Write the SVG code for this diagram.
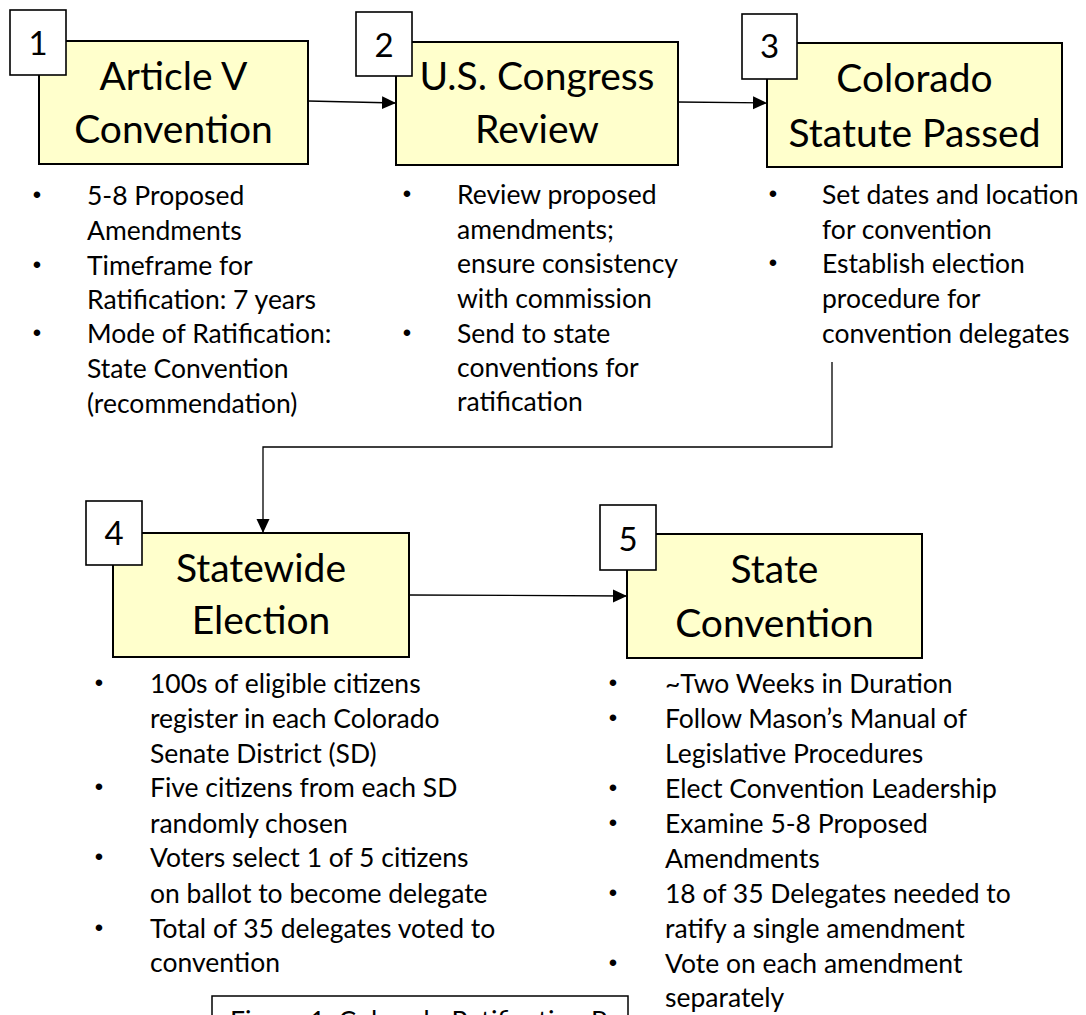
<svg xmlns="http://www.w3.org/2000/svg" width="1086" height="1015" viewBox="0 0 1086 1015">
<style>
.box{fill:#FFFFCC;stroke:#000;stroke-width:2}
.num{fill:#fff;stroke:#000;stroke-width:1.6}
.title{font-family:Lato,"Liberation Sans",sans-serif;font-size:39px;fill:#000;text-anchor:middle}
.numt{font-family:Lato,"Liberation Sans",sans-serif;font-size:33px;fill:#000;text-anchor:middle}
.body{font-family:Lato,"Liberation Sans",sans-serif;font-size:26.5px;fill:#000}
.bul{font-family:"Liberation Sans",sans-serif;font-size:24px;fill:#000;text-anchor:middle}
.conn{fill:none;stroke:#000;stroke-width:1.3}
</style>
<defs>
<marker id="arr" markerUnits="userSpaceOnUse" markerWidth="14" markerHeight="14" refX="14" refY="6.5" orient="auto">
<path d="M0,0 L14,6.5 L0,13 z" fill="#000"/>
</marker>
<clipPath id="capclip"><rect x="213" y="997" width="414" height="60"/></clipPath>
</defs>

<g id="connectors">
<path class="conn" d="M308,101 L396,103" marker-end="url(#arr)"/>
<path class="conn" d="M678,102 L767,103" marker-end="url(#arr)"/>
<path class="conn" d="M832,362 L832,447 L263,447 L263,533" marker-end="url(#arr)"/>
<path class="conn" d="M409,595 L627,596" marker-end="url(#arr)"/>
</g>

<g id="node1">
<rect class="box" x="39" y="41" width="269" height="123"/>
<rect class="num" x="10" y="10" width="56" height="65"/>
<text class="numt" x="38" y="55">1</text>
<text class="title" x="173.5" y="90">Article V</text>
<text class="title" x="173.5" y="143">Convention</text>
<g class="body"><text x="87" y="205">5-8 Proposed</text><text x="87" y="240">Amendments</text><text x="87" y="275">Timeframe for</text><text x="87" y="309">Ratification: 7 years</text><text x="87" y="343">Mode of Ratification:</text><text x="87" y="378">State Convention</text><text x="87" y="413">(recommendation)</text></g>
<g class="bul"><text x="37" y="203">•</text><text x="37" y="273">•</text><text x="37" y="341">•</text></g>
</g>

<g id="node2">
<rect class="box" x="396" y="42" width="282" height="123"/>
<rect class="num" x="356" y="12" width="56" height="64"/>
<text class="numt" x="384" y="57">2</text>
<text class="title" x="537" y="90">U.S. Congress</text>
<text class="title" x="537" y="143">Review</text>
<g class="body"><text x="457" y="204">Review proposed</text><text x="457" y="239">amendments;</text><text x="457" y="273">ensure consistency</text><text x="457" y="308">with commission</text><text x="457" y="343">Send to state</text><text x="457" y="377">conventions for</text><text x="457" y="411">ratification</text></g>
<g class="bul"><text x="407" y="202">•</text><text x="407" y="341">•</text></g>
</g>

<g id="node3">
<rect class="box" x="767" y="43" width="295" height="124"/>
<rect class="num" x="742" y="14" width="55" height="65"/>
<text class="numt" x="769.5" y="58">3</text>
<text class="title" x="914.5" y="92">Colorado</text>
<text class="title" x="914.5" y="147">Statute Passed</text>
<g class="body"><text x="822" y="204">Set dates and location</text><text x="822" y="239">for convention</text><text x="822" y="273">Establish election</text><text x="822" y="308">procedure for</text><text x="822" y="343">convention delegates</text></g>
<g class="bul"><text x="773" y="202">•</text><text x="773" y="271">•</text></g>
</g>

<g id="node4">
<rect class="box" x="113" y="533" width="296" height="124"/>
<rect class="num" x="86" y="501" width="56" height="64"/>
<text class="numt" x="114" y="545">4</text>
<text class="title" x="261" y="582">Statewide</text>
<text class="title" x="261" y="634">Election</text>
<g class="body"><text x="150" y="693">100s of eligible citizens</text><text x="150" y="728">register in each Colorado</text><text x="150" y="763">Senate District (SD)</text><text x="150" y="797">Five citizens from each SD</text><text x="150" y="833">randomly chosen</text><text x="150" y="867">Voters select 1 of 5 citizens</text><text x="150" y="903">on ballot to become delegate</text><text x="150" y="938">Total of 35 delegates voted to</text><text x="150" y="972">convention</text></g>
<g class="bul"><text x="99" y="691">•</text><text x="99" y="795">•</text><text x="99" y="865">•</text><text x="99" y="936">•</text></g>
</g>

<g id="node5">
<rect class="box" x="627" y="534" width="295" height="124"/>
<rect class="num" x="600" y="505" width="56" height="65"/>
<text class="numt" x="628" y="551">5</text>
<text class="title" x="774.5" y="583">State</text>
<text class="title" x="774.5" y="637">Convention</text>
<g class="body"><text x="665" y="693">~Two Weeks in Duration</text><text x="665" y="728">Follow Mason’s Manual of</text><text x="665" y="763">Legislative Procedures</text><text x="665" y="798">Elect Convention Leadership</text><text x="665" y="833">Examine 5-8 Proposed</text><text x="665" y="868">Amendments</text><text x="665" y="903">18 of 35 Delegates needed to</text><text x="665" y="938">ratify a single amendment</text><text x="665" y="973">Vote on each amendment</text><text x="665" y="1007">separately</text></g>
<g class="bul"><text x="613" y="691">•</text><text x="613" y="726">•</text><text x="613" y="796">•</text><text x="613" y="831">•</text><text x="613" y="901">•</text><text x="613" y="971">•</text></g>
</g>

<g id="caption">
<rect x="212" y="996" width="416" height="40" fill="#fff" stroke="#000" stroke-width="1.5"/>
<text class="body" x="230" y="1030" clip-path="url(#capclip)">Figure 1: Colorado Ratification Process</text>
</g>
</svg>
